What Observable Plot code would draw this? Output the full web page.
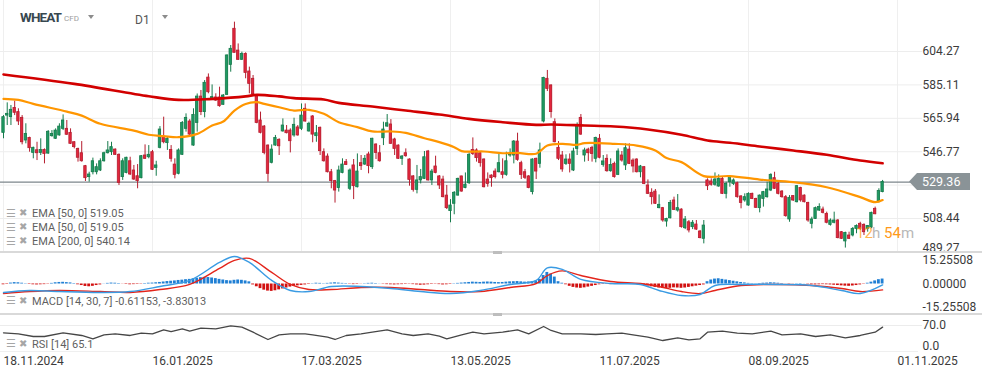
<!DOCTYPE html>
<html>
<head>
<meta charset="utf-8">
<script src="https://cdn.jsdelivr.net/npm/d3@7"></script>
<script src="https://cdn.jsdelivr.net/npm/@observablehq/plot@0.6"></script>
<style>
html,body{margin:0;padding:0;background:#fff;}
#wrap{position:relative;width:982px;height:377px;overflow:hidden;background:#fff;font-family:Roboto,"Noto Sans",sans-serif;}
.pl{position:absolute;left:0;}
.t{position:absolute;white-space:nowrap;line-height:1;}
.sep{position:absolute;left:0;width:982px;height:2px;background:#d9d9d9;}
.handle{position:absolute;left:493px;width:9px;height:3px;background:#bdbdbd;}
.tri{position:absolute;width:0;height:0;border-left:3.5px solid transparent;border-right:3.5px solid transparent;border-top:4px solid #8c8c8c;}
.ic{position:absolute;color:#a6a6a6;line-height:1;}
.leg{position:absolute;left:32px;font-size:11px;color:#5f5f5f;line-height:1;white-space:nowrap;}
</style>
</head>
<body>
<div id="wrap"></div>
<script>
// ---------------- DATA ----------------
const open = [
557.6,567.5,566.6,571.8,569.5,566.2,553.2,554.7,546.1,547.6,
546.1,547.8,545.7,555.7,554.2,556.1,559.9,559.9,557.6,552.2,
548.4,545.9,538.5,532.2,535.0,535.0,536.0,541.3,545.9,546.5,
548.0,545.0,532.2,534.6,541.3,536.0,532.7,531.6,544.6,543.6,
546.5,537.5,549.0,555.1,551.7,547.8,539.4,534.1,545.0,559.9,
564.1,550.3,563.3,578.4,569.5,589.3,577.1,577.9,577.9,573.7,
579.4,596.6,617.3,604.8,599.5,602.9,592.8,588.6,579.0,564.7,
561.2,550.3,540.4,550.3,553.6,558.4,558.9,558.9,556.1,560.7,
559.9,571.4,558.4,567.0,555.7,560.5,546.5,544.0,535.0,529.9,
525.9,534.6,540.8,525.5,538.9,526.4,540.2,539.4,545.2,537.9,
550.9,545.9,554.5,561.2,562.4,553.8,550.3,542.7,545.9,542.3,
532.6,524.9,530.3,531.2,546.9,530.3,538.3,532.6,530.8,521.6,
512.7,516.9,521.6,532.6,525.9,528.7,547.8,547.5,545.9,542.3,
530.8,533.1,535.4,535.0,535.0,533.5,544.6,544.6,552.6,540.2,
535.0,532.6,523.6,542.7,539.8,564.1,588.6,584.8,563.7,549.0,
544.6,539.8,542.3,536.0,548.4,566.2,544.6,548.0,549.0,542.7,
554.2,539.2,542.7,535.6,539.8,533.5,544.6,538.9,548.0,541.7,
542.3,535.0,537.9,527.4,523.2,523.9,514.4,514.4,506.7,508.6,
518.8,513.0,513.6,502.9,506.3,503.5,505.0,501.0,496.8,530.3,
529.7,527.8,526.8,531.2,522.6,529.3,528.3,528.7,521.1,518.8,
515.9,522.6,519.7,514.4,519.7,520.7,524.5,531.6,528.3,523.9,
520.7,507.9,521.3,517.8,525.9,521.6,517.3,505.4,508.2,513.0,
513.6,511.1,504.8,506.0,507.3,500.6,495.3,498.7,498.7,502.5,
505.4,504.8,502.5,503.3,514.0,518.4,523.6
];
const high = [
567.5,574.8,573.3,575.8,571.4,567.5,562.8,555.1,549.4,552.2,
554.2,548.4,558.9,558.9,559.9,562.8,567.9,564.7,559.9,552.6,
548.8,552.6,538.9,535.0,543.1,539.8,542.7,546.5,552.6,552.2,
548.4,545.5,542.7,543.6,543.6,538.9,539.4,544.6,550.7,550.3,
547.5,541.3,561.2,566.6,555.5,550.3,542.7,548.4,564.1,568.5,
565.2,571.4,579.9,581.9,587.6,591.4,585.1,580.0,583.8,579.6,
602.3,607.7,621.1,608.6,603.9,603.5,595.3,590.5,579.4,569.5,
561.8,550.7,550.7,556.1,554.2,565.6,561.8,559.9,566.0,561.8,
574.2,574.2,563.7,567.5,561.8,560.9,548.4,545.5,536.6,530.3,
538.5,542.7,542.3,536.9,542.3,545.5,544.6,544.6,546.5,554.5,
551.3,550.3,563.7,568.1,565.2,554.5,550.7,544.6,548.4,542.7,
533.1,538.9,536.6,546.9,547.5,536.6,544.2,533.1,532.7,527.4,
519.3,523.9,531.6,532.7,534.6,546.1,554.7,548.4,546.9,542.7,
534.6,533.5,536.9,545.5,542.7,546.5,548.4,553.2,557.4,541.3,
536.6,533.1,542.7,543.1,551.7,589.5,593.4,585.1,565.6,552.6,
546.9,545.0,545.5,548.8,563.3,568.1,548.8,548.8,549.9,555.1,
556.6,544.6,545.0,542.7,540.8,548.4,546.9,551.3,551.3,542.7,
542.7,538.9,538.3,530.6,525.5,525.1,522.0,514.8,508.6,518.8,
520.7,522.2,514.0,509.6,507.3,507.3,507.3,501.6,507.3,531.2,
531.2,534.6,533.5,532.2,529.3,533.1,531.2,529.3,521.6,522.6,
523.2,523.0,520.1,522.0,524.0,529.3,534.1,535.0,529.3,524.5,
521.6,521.6,521.6,527.4,526.4,522.0,517.8,509.2,515.0,516.9,
515.0,512.1,508.2,512.1,507.9,501.0,500.6,500.6,503.3,504.8,
506.3,505.4,504.4,512.1,515.0,525.5,530.3
];
const low = [
554.2,561.8,561.8,567.5,561.8,550.7,551.3,546.5,542.7,541.7,
544.6,539.8,545.3,555.1,553.8,555.7,558.9,556.1,550.9,548.4,
540.8,540.8,529.7,529.3,533.5,533.5,535.4,540.8,545.5,544.6,
544.6,527.4,530.3,534.1,533.1,530.3,525.5,531.2,542.3,542.7,
536.0,532.7,548.4,551.3,547.5,540.8,531.2,533.5,544.6,558.0,
556.1,549.9,558.0,567.5,566.2,580.0,576.1,575.6,572.3,573.3,
579.0,592.4,603.5,599.1,599.1,588.6,580.0,579.0,562.8,557.0,
545.0,529.3,539.8,549.9,544.6,558.0,557.0,546.1,555.1,555.7,
558.9,563.7,558.0,551.9,552.2,544.6,540.8,534.6,525.5,517.3,
523.6,534.1,538.9,524.5,519.3,526.0,536.0,538.9,534.1,536.6,
542.3,540.8,550.3,560.8,550.9,544.6,542.3,538.9,543.6,527.0,
523.6,522.6,528.3,530.8,529.9,527.4,534.1,525.1,520.3,513.6,
506.0,510.6,521.3,523.6,525.5,528.0,544.6,540.8,537.9,526.0,
526.4,526.4,531.2,534.6,531.2,532.7,543.6,539.8,541.3,530.8,
530.8,525.5,522.0,530.8,537.3,563.3,581.3,566.0,551.9,541.7,
535.0,538.9,534.6,535.4,544.6,556.1,540.8,541.2,540.8,540.4,
542.7,537.9,535.0,535.0,531.6,533.1,540.8,536.0,539.4,534.6,
534.6,531.8,527.9,522.2,516.3,516.5,514.0,506.3,503.5,508.2,
513.0,512.1,502.9,502.1,500.2,502.1,501.6,496.8,493.9,524.5,
527.0,527.0,526.4,522.2,519.7,526.4,527.4,520.1,514.0,517.8,
515.5,519.3,514.2,511.7,515.0,520.1,523.9,525.1,522.0,520.1,
509.2,506.3,518.2,517.4,517.8,517.4,506.3,502.5,507.9,512.5,
511.1,505.4,504.1,505.4,496.8,496.4,491.5,496.4,497.9,499.7,
501.6,498.7,500.6,502.5,510.6,517.4,523.2
];
const close = [
566.6,568.5,570.8,569.1,564.1,552.2,557.0,548.8,549.0,545.9,
547.8,545.5,558.2,557.0,558.9,561.2,564.7,556.5,551.3,549.4,
543.3,541.3,531.6,533.7,541.3,537.9,541.3,545.9,547.5,549.4,
545.0,528.9,541.3,543.3,533.7,530.8,529.9,544.2,542.7,545.0,
536.4,538.9,559.5,552.2,554.2,542.7,533.5,547.5,563.3,566.2,
556.6,567.9,578.4,569.5,586.3,580.9,578.1,576.1,572.9,579.0,
602.0,605.8,603.5,599.5,602.9,592.0,585.7,579.8,563.3,557.6,
546.1,534.1,548.0,554.7,549.9,561.8,557.4,552.8,562.2,556.1,
567.5,564.1,562.8,556.6,557.4,547.1,541.3,535.0,529.9,524.5,
536.0,539.4,539.2,536.0,527.0,535.4,538.5,542.7,538.5,554.2,
546.1,541.3,559.5,563.1,551.3,548.4,542.7,544.0,544.2,530.6,
524.9,530.3,532.2,543.6,530.3,535.4,534.6,527.4,520.7,514.4,
515.9,523.2,531.2,523.9,527.9,545.0,545.5,543.1,540.2,526.4,
528.3,531.6,532.2,540.2,533.5,541.3,545.2,552.6,542.1,533.5,
531.8,525.9,542.3,535.4,547.5,589.1,582.8,569.5,552.2,542.7,
536.6,542.3,539.8,546.9,561.8,556.6,547.5,545.9,545.5,554.7,
543.3,541.2,535.6,539.2,532.2,546.9,541.7,548.8,539.8,538.3,
535.0,538.3,528.3,522.6,520.7,516.9,516.3,507.3,508.2,517.4,
513.4,514.4,503.5,507.9,501.6,506.0,502.1,497.2,504.4,527.0,
527.8,530.8,531.2,522.6,528.3,532.2,530.3,520.7,517.4,520.7,
522.6,519.7,514.6,521.6,523.6,525.1,533.5,525.5,522.6,520.7,
509.8,520.3,518.8,527.0,518.8,517.8,507.3,507.9,514.4,515.0,
511.7,506.0,507.3,507.3,497.2,496.8,500.2,496.8,502.5,504.1,
502.5,500.6,504.1,511.7,510.9,524.3,529.36
];
const ema50Bars = [0,4,8,17,21,26,35,39,43,47,52,56,59,62,65,68,70,74,78,82,86,90,95,99,104,108,113,117,121,123,129,134,138,143,146,150,154,156,164,170,175,178,182,188,195,203,212,221,230,234,236];
const ema50Vals = [577.1,576.5,574.2,569.8,567.5,562.8,558.9,556.5,555.7,555.1,557.0,561.8,564.1,570.4,574.2,575.2,574.2,572.3,570.4,570.8,568.5,563.7,560.9,558.4,558.4,557.6,554.5,552.3,549.4,547.1,546.9,545.9,546.1,545.6,550.3,551.3,550.7,551.7,551.3,550.3,547.5,543.1,540.8,532.8,532.8,530.8,529.3,526.4,520.7,517.8,519.05];
const ema200Bars = [0,19,39,47,56,65,68,74,78,86,90,99,108,117,125,134,143,147,156,164,173,182,189,195,203,212,221,230,236];
const ema200Vals = [591.1,585.7,578.6,576.5,577.1,578.5,579.4,578.5,577.5,576.7,574.8,572.7,570.4,568.1,565.6,563.7,562.2,562.4,561.8,561.2,559.5,556.5,553.2,551.9,549.8,547.5,545.0,541.7,540.14];
const macdBars = [0,7,15,26,34,42,50,58,62,66,72,77,82,88,96,104,112,120,128,136,143,146,150,155,163,171,176,182,187,191,198,208,217,225,230,236];
const macdVals = [-5.5,-4.2,-4.9,-5.5,-4.9,-1.6,2.3,14,17.9,14,2.3,-4.2,-4.9,-1.6,-1.6,-2.9,-4.9,-6.2,-4.2,-0.3,2.3,10.5,9.5,3.0,0.3,-0.3,-4.2,-7.5,-6.8,-1,-0.3,-0.3,-1,-4.2,-6.2,-0.61153];
const signalVals = [-6.2,-4.9,-4.2,-4.9,-5.5,-3.6,-0.3,10.1,15.3,16.6,7.5,-0.3,-3.6,-3.6,-2.3,-2.3,-3.6,-4.9,-4.9,-2.3,0.3,5.5,8.5,5.5,1.6,0.3,-1.6,-4.9,-6.2,-4.2,-1,-0.3,-1,-2.9,-4.9,-3.83013];
const histVals = [
-0.5,-0.3,0.6,0.9,0.8,0.5,0.2,-0.3,-0.5,-0.6,-0.5,-0.4,-0.2,
0.4,0.8,1.0,1.1,0.9,0.7,0.3,-0.5,-1.0,-1.6,-1.8,-1.5,-1.0,-0.6,0.1,
0.4,0.6,0.5,0.3,-0.1,-0.3,-0.5,-0.4,-0.3,-0.2,0.3,0.5,0.6,0.8,
1.0,1.3,1.6,1.8,2.0,2.3,2.5,2.8,3.0,3.4,3.8,4.1,4.3,4.2,3.9,
3.5,3.0,2.6,2.2,2.0,2.4,2.6,2.4,2.0,1.4,
-0.6,-1.8,-3.0,-4.0,-4.6,-4.8,-4.4,-3.8,-3.2,-2.6,-2.0,-1.6,-1.2,-0.9,
-0.6,-0.3,0.2,0.5,0.4,0.2,0.4,0.6,
0.8,0.6,0.4,0.3,-0.2,-0.4,-0.3,-0.1,0.2,0.4,0.5,0.3,
0.1,-0.2,-0.4,-0.5,-0.6,-0.5,-0.4,-0.3,-0.2,-0.4,-0.6,-0.8,-0.7,-0.5,-0.3,-0.2,-0.4,-0.6,-0.5,-0.3,
0.2,0.4,0.6,0.8,1.0,1.2,1.1,1.0,1.2,1.3,1.2,1.0,0.9,1.0,1.2,1.4,1.5,1.6,1.4,1.2,1.3,1.5,1.8,
3.0,5.5,7.5,6.5,4.5,
1.5,0.5,-0.5,-1.5,-2.2,-2.6,-2.8,-2.5,-2.0,-1.5,-1.0,-0.5,
-0.3,-0.2,-0.4,-0.3,-0.1,0.1,0.3,0.2,0.1,-0.2,-0.5,-0.9,-1.3,
-1.8,-2.2,-2.6,-2.8,-3.0,-2.8,-2.5,-2.6,-2.8,-2.6,-2.2,-1.8,-1.4,-1.0,-0.6,
1.5,2.6,3.2,3.4,3.0,2.6,2.2,1.8,
1.4,1.0,0.7,0.4,0.2,0.1,0.3,0.5,0.6,0.8,0.7,0.5,0.3,0.0,-0.2,-0.1,0.2,0.3,0.1,-0.2,-0.5,-0.6,-0.5,-0.4,-0.5,-0.6,-0.8,-1.0,
-1.2,-1.4,-1.5,-1.3,-1.0,-0.6,-0.2,
0.5,1.2,2.0,2.8,3.22
];
const rsiBars = [0,4,8,11,16,21,24,27,30,34,37,40,43,45,48,50,53,57,61,64,67,71,74,77,81,83,87,89,92,96,99,103,107,110,114,117,119,123,126,129,134,138,141,145,147,150,155,159,162,166,169,173,177,181,184,187,189,193,197,201,206,209,214,218,222,226,230,234,236];
const rsiVals = [47.8,44.7,36.5,36.5,47.8,39.6,29.5,41.7,44.7,39.6,46.6,44.7,56.9,51.7,59.9,52.7,61.8,59.9,69,64.9,49.6,27.4,41.7,44.7,44.7,41.7,34.4,27.4,39.6,44.7,49.6,56.9,44.7,39.6,44.7,37.5,29.5,41.7,49.6,44.7,49.6,56.9,44.7,67,54.8,44.7,44.7,42.6,44.7,46.6,41.7,34.4,24.3,32.4,26.4,29.5,49.6,52.7,46.6,44.7,52.7,41.7,44.7,36.5,41.7,32.4,39.6,49.6,65.1];
const xTickBars = [0,40,80,120,160,200,240];
const xTickLabels = ["18.11.2024","16.01.2025","17.03.2025","13.05.2025","11.07.2025","08.09.2025","01.11.2025"];
const priceGrid = [604.27,585.11,565.94,546.77,527.60,508.44,489.27];
const priceLabels = [604.27,585.11,565.94,546.77,508.44];
const priceLabelBottom = [489.27];
const macdLabels = [15.25508,0,-15.25508];
const rsiTop = [70];
const rsiBottom = [0];
const lastClose = 529.36;

// ---------------- LAYOUT ----------------
const W = 982, PR = 922, STEP = 3.725, X0 = 3;
const xDomain = [-X0/STEP, (PR - X0)/STEP];
const style = {fontFamily:"Roboto, 'Noto Sans', sans-serif", fontSize:"12px", color:"#3b3b3b", background:"transparent", overflow:"visible"};
const wrap = document.getElementById("wrap");

const candles = close.map((c,i) => ({i, o:open[i], h:high[i], l:low[i], c}));
const isUp = d => d.c >= d.o;
const pairs = (bars, vals) => bars.map((b,k) => ({i:b, v:vals[k]}));

function place(node, top){
  node.classList.add("pl");
  node.style.top = top + "px";
  wrap.appendChild(node);
  return node.tagName.toLowerCase() === "svg" ? node : node.querySelector("svg");
}
const yAxis = (vals, fmt, extra = {}) => Plot.axisY(vals, {anchor:"right", tickSize:0, tickPadding:0, label:null, textAnchor:"start", tickFormat:fmt, ...extra});

// main price panel
const main = Plot.plot({
  width:W, height:252, marginTop:0, marginBottom:0, marginLeft:0, marginRight:W-PR,
  style,
  x:{domain:xDomain, axis:null},
  y:{domain:[488.95,633.53], axis:null},
  marks:[
    Plot.ruleX(xTickBars, {stroke:"#efefef"}),
    Plot.ruleY(priceGrid, {stroke:"#ededed"}),
    Plot.ruleY([lastClose], {stroke:"#7d868b", strokeWidth:1.3}),
    Plot.ruleX(candles, {x:"i", y1:"l", y2:"h", stroke:d => isUp(d) ? "#157a4b" : "#b51d2e", strokeWidth:1}),
    Plot.rect(candles, {x1:d => d.i - 0.32, x2:d => d.i + 0.32, y1:"o", y2:"c",
      fill:d => isUp(d) ? "#1f9a63" : "#e3263d", stroke:d => isUp(d) ? "#157a4b" : "#b51d2e", strokeWidth:0.8}),
    Plot.line(pairs(ema200Bars, ema200Vals), {x:"i", y:"v", stroke:"#d20000", strokeWidth:2.6, curve:"catmull-rom"}),
    Plot.line(pairs(ema50Bars, ema50Vals), {x:"i", y:"v", stroke:"#ff9600", strokeWidth:2.2, curve:"catmull-rom"}),
    yAxis(priceLabels, d => d.toFixed(2)),
    yAxis(priceLabelBottom, d => d.toFixed(2), {dy:-4})
  ]
});
const mainSvg = place(main, 0);
{
  const yp = main.scale("y").apply(lastClose);
  const g = d3.select(mainSvg).append("g").attr("text-anchor", "start");
  g.append("polygon")
    .attr("points", `909,${yp} 917,${yp-8.5} 970,${yp-8.5} 970,${yp+8.5} 917,${yp+8.5}`)
    .attr("fill", "#8a9397");
  g.append("text").attr("x", 922).attr("y", yp).attr("dy", "0.36em")
    .attr("fill", "#fff").attr("font-size", 12.5).attr("font-family", "Roboto, sans-serif")
    .text(lastClose.toFixed(2));
}

// MACD panel
const macdPlot = Plot.plot({
  width:W, height:62, marginTop:0, marginBottom:0, marginLeft:0, marginRight:W-PR,
  style,
  x:{domain:xDomain, axis:null},
  y:{domain:[-19.8,20.45], axis:null},
  marks:[
    Plot.rect(histVals.map((v,i) => ({i, v})), {x1:d => d.i - 0.38, x2:d => d.i + 0.38, y1:0, y2:"v",
      fill:d => d.v >= 0 ? "#1f7fd4" : "#d21010"}),
    Plot.line(pairs(macdBars, signalVals), {x:"i", y:"v", stroke:"#e3251b", strokeWidth:1.4, curve:"catmull-rom"}),
    Plot.line(pairs(macdBars, macdVals), {x:"i", y:"v", stroke:"#3a9be3", strokeWidth:1.4, curve:"catmull-rom"}),
    yAxis(macdLabels, d => d.toFixed(5))
  ]
});
place(macdPlot, 252);

// RSI panel + date axis
const labelOf = new Map(xTickBars.map((b,k) => [b, xTickLabels[k]]));
const rsiPlot = Plot.plot({
  width:W, height:63, marginTop:0, marginBottom:25, marginLeft:0, marginRight:W-PR,
  style,
  x:{domain:xDomain, axis:null},
  y:{domain:[-12.2,103.5], axis:null},
  marks:[
    Plot.ruleY(rsiTop, {stroke:"#ececec"}),
    Plot.line(pairs(rsiBars, rsiVals), {x:"i", y:"v", stroke:"#464646", strokeWidth:1.3}),
    yAxis(rsiTop, d => d.toFixed(1)),
    yAxis(rsiBottom, d => d.toFixed(1), {dy:-2}),
    Plot.axisX(xTickBars, {anchor:"bottom", tickSize:0, tickPadding:4, label:null, textAnchor:"start", tickFormat:d => labelOf.get(d)})
  ]
});
place(rsiPlot, 314);

// ---------------- OVERLAYS (text & separators) ----------------
function div(cls, css, html){
  const d = document.createElement("div");
  d.className = cls; d.style.cssText = css; if (html !== undefined) d.innerHTML = html;
  wrap.appendChild(d); return d;
}
div("sep", "top:251px;");
div("sep", "top:313px;");
div("handle", "top:250.5px;");
div("handle", "top:312.5px;");
div("", "position:absolute;left:0;top:351px;width:918px;height:1px;background:#efefef;");

div("t", "left:20px;top:11px;font-size:13.5px;font-weight:700;color:#37474f;letter-spacing:-0.9px;", "WHEAT");
div("t", "left:64px;top:15px;font-size:8px;color:#9e9e9e;", "CFD");
div("tri", "left:88px;top:15px;");
div("t", "left:135px;top:14px;font-size:12px;color:#555;", "D1");
div("tri", "left:162px;top:15px;");

const legends = [["EMA [50, 0] 519.05",208],["EMA [50, 0] 519.05",222],["EMA [200, 0] 540.14",236],
                 ["MACD [14, 30, 7] -0.61153, -3.83013",295.5],["RSI [14] 65.1",338.5]];
legends.forEach(([txt, top]) => {
  div("ic", `left:6px;top:${top-0.5}px;font-size:11px;`, "&#9776;");
  div("ic", `left:19px;top:${top}px;font-size:10px;`, "&#10006;");
  div("leg", `top:${top}px;`, txt);
});

div("t", "left:856px;top:226px;font-size:15px;color:rgba(255,150,0,0.7);", "12");
div("t", "left:872px;top:226px;font-size:15px;color:#b8b8b8;", "h");
div("t", "left:884px;top:226px;font-size:15px;color:#ff9a1a;", "54");
div("t", "left:901px;top:226px;font-size:15px;color:#b8b8b8;", "m");
</script>
</body>
</html>
